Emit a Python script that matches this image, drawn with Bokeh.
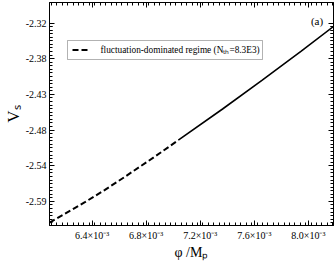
from bokeh.plotting import figure
from bokeh.models import (Range1d, FixedTicker, LinearAxis, Label, BoxAnnotation, Arrow,
                          CustomLabelingPolicy)
from bokeh.embed import file_html
from bokeh.resources import INLINE

# ---- data ----
phi_dashed = [6.0851e-3, 6.3469e-3, 6.4924e-3, 6.6378e-3, 6.8560e-3, 7.0378e-3]
vs_dashed = [-2.6245, -2.5937, -2.5753, -2.5559, -2.5259, -2.4998]
phi_solid = [7.0378e-3, 7.3651e-3, 7.6560e-3, 7.9469e-3, 8.1869e-3]
vs_solid = [-2.4998, -2.4526, -2.4094, -2.3650, -2.3275]

x_tick_values = [6.4e-3, 6.8e-3, 7.2e-3, 7.6e-3, 8.0e-3]
x_tick_labels = ["6.4×10⁻³", "6.8×10⁻³", "7.2×10⁻³", "7.6×10⁻³", "8.0×10⁻³"]
y_tick_values = [-2.3225, -2.3765, -2.4305, -2.4845, -2.5385, -2.5925]
y_tick_labels = ["-2.32", "-2.38", "-2.43", "-2.48", "-2.54", "-2.59"]

legend_label = "fluctuation-dominated regime (Nₜₕ=8.3E3)"
panel_label = "(a)"
x_title = "φ /Mₚ"
y_title = "Vₛ"

x_lo, x_hi = 6.0851e-3, 8.1855e-3
y_lo, y_hi = -2.62895, -2.29145

SERIF = "Liberation Serif"

p = figure(width=335, height=262, output_backend="svg", toolbar_location=None,
           x_range=Range1d(x_lo, x_hi), y_range=Range1d(y_lo, y_hi),
           x_axis_location=None, y_axis_location=None)
p.min_border = 0
p.min_border_left = 44
p.min_border_bottom = 35
p.min_border_right = 2
p.min_border_top = 2
p.background_fill_color = "white"
p.border_fill_color = "white"
p.outline_line_color = "black"
p.outline_line_width = 1
p.xgrid.visible = False
p.ygrid.visible = False

x_minor = [6.1e-3 + i * 0.04e-3 for i in range(0, 53)]
y_minor = [-2.3225 + 0.0054 * k for k in range(-6, 0)] + \
          [-2.3225 - 0.0054 * k for k in range(1, 70)]

xt = FixedTicker(ticks=x_tick_values, minor_ticks=x_minor)
yt = FixedTicker(ticks=y_tick_values, minor_ticks=y_minor)


def style(ax, labels):
    ax.axis_line_color = "black"
    ax.major_tick_line_color = "black"
    ax.minor_tick_line_color = "black"
    ax.major_tick_in = 5
    ax.major_tick_out = 0
    ax.minor_tick_in = 3
    ax.minor_tick_out = 0
    if labels:
        ax.major_label_text_font = SERIF
        ax.major_label_text_font_size = "10px"
        ax.major_label_text_color = "black"
        ax.major_label_standoff = 4
        ax.axis_label_text_font = SERIF
        ax.axis_label_text_font_style = "normal"
        ax.axis_label_text_color = "black"
    else:
        ax.major_label_text_font_size = "0px"
        ax.major_label_standoff = 0
        ax.major_label_policy = CustomLabelingPolicy(code="return []")


xb = LinearAxis(ticker=xt, major_label_overrides=dict(zip(x_tick_values, x_tick_labels)),
                axis_label=x_title)
style(xb, True)
xb.axis_label_text_font_size = "14px"
xb.axis_label_standoff = 1
p.add_layout(xb, "below")
xa = LinearAxis(ticker=xt)
style(xa, False)
p.add_layout(xa, "above")
yl = LinearAxis(ticker=yt, major_label_overrides=dict(zip(y_tick_values, y_tick_labels)),
                axis_label=y_title)
style(yl, True)
yl.major_label_standoff = 3
yl.axis_label_text_font_size = "17px"
yl.axis_label_standoff = 0
p.add_layout(yl, "left")
yr = LinearAxis(ticker=yt)
style(yr, False)
p.add_layout(yr, "right")

p.line(phi_dashed, vs_dashed, line_color="black", line_width=2, line_dash="6 3")
p.line(phi_solid, vs_solid, line_color="black", line_width=1.6)

# legend box (frame screen units, origin at frame bottom-left)
p.add_layout(BoxAnnotation(left=18, right=213, top=185, bottom=166,
                           left_units="screen", right_units="screen",
                           top_units="screen", bottom_units="screen",
                           fill_color=None, line_color="black", line_width=1))
p.add_layout(Arrow(start=None, end=None, x_start=23, y_start=175.5, x_end=39, y_end=175.5,
                   start_units="screen", end_units="screen",
                   line_color="black", line_width=2, line_dash="6 3"))
lab_kw = dict(x_units="screen", y_units="screen", text_font=SERIF, text_color="black")
p.add_layout(Label(x=51, y=175.5, text=legend_label, text_font_size="9.3px",
                   text_baseline="middle", text_align="left", **lab_kw))
p.add_layout(Label(x=267.5, y=204.5, text=panel_label, text_font_size="11px",
                   text_baseline="middle", text_align="center", **lab_kw))

open("out.html", "w").write(file_html(p, INLINE))
